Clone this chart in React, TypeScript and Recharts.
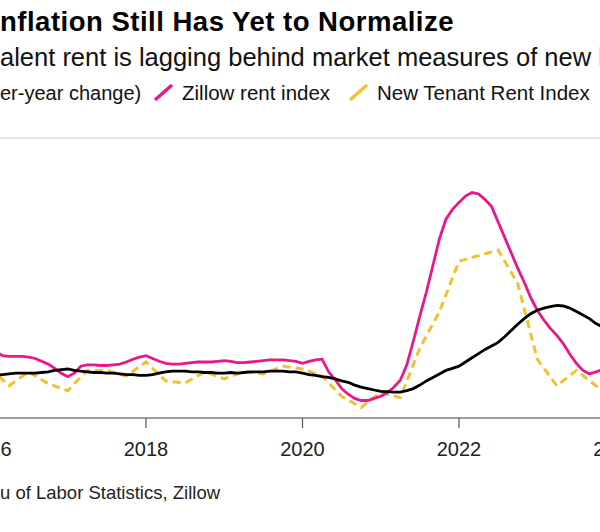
import React from 'react';
import { LineChart, Line, XAxis, YAxis, CartesianGrid } from 'recharts';

// Monthly series start in January 2016
const startYear = 2016;

// Owners' equivalent rent, y/y % (monthly)
const oerValues = [
  3.0, 3.05, 3.1, 3.15, 3.2, 3.2, 3.2, 3.2, 3.25, 3.3, 3.4, 3.45,
  3.5, 3.4, 3.35, 3.3, 3.25, 3.25, 3.2, 3.2, 3.15, 3.1, 3.1, 3.05,
  3.05, 3.1, 3.2, 3.3, 3.35, 3.35, 3.35, 3.3, 3.3, 3.25, 3.25, 3.2,
  3.2, 3.25, 3.2, 3.25, 3.3, 3.3, 3.3, 3.35, 3.35, 3.35, 3.3, 3.3,
  3.2, 3.1, 3.05, 2.95, 2.9, 2.8, 2.65, 2.55, 2.35, 2.2, 2.1, 2.0,
  1.9, 1.88, 1.85, 1.85, 1.95, 2.1, 2.35, 2.65, 2.9, 3.15, 3.4, 3.55,
  3.7, 4.0, 4.3, 4.6, 4.9, 5.15, 5.4, 5.8, 6.25, 6.7, 7.1, 7.45,
  7.7, 7.85, 7.95, 8.05, 8.0, 7.85, 7.6, 7.35, 7.1, 6.75, 6.5, 6.3,
  6.1, 5.95, 5.8,
];

// Zillow rent index, y/y % (monthly)
const zillowValues = [
  5.0, 4.75, 4.45, 4.4, 4.4, 4.4, 4.35, 4.25, 4.05, 3.85, 3.55, 3.2,
  2.95, 3.2, 3.7, 3.8, 3.8, 3.75, 3.75, 3.8, 3.85, 4.0, 4.2, 4.35,
  4.45, 4.25, 4.05, 3.9, 3.85, 3.85, 3.9, 3.95, 4.0, 4.0, 4.0, 4.05,
  4.1, 4.05, 3.95, 3.95, 4.0, 4.05, 4.1, 4.15, 4.15, 4.15, 4.1, 4.05,
  3.9, 4.05, 4.15, 4.2, 3.3, 2.75, 2.1, 1.7, 1.4, 1.25, 1.25, 1.4,
  1.55, 1.8, 2.2, 2.7, 3.8, 5.5, 7.3, 9.0, 10.9, 12.8, 14.2, 14.9,
  15.4, 15.85, 16.1, 16.0, 15.6, 15.1, 14.0, 12.9, 11.8, 10.7, 9.7, 8.6,
  7.7, 7.0, 6.4, 5.9, 5.3, 4.55, 3.9, 3.4, 3.15, 3.3, 3.45, 3.5,
  3.5, 3.5, 3.5,
];

// New Tenant Rent Index, y/y % (quarterly, Q1 2016 onward)
const ntriValues = [
  3.6, 2.3, 3.3, 2.45,
  1.95, 3.4, 3.4, 3.0,
  4.0, 2.65, 2.5, 3.3,
  2.8, 3.3, 3.15, 3.7,
  3.5, 3.0, 1.55, 0.75,
  1.85, 1.45, 5.0, 7.6,
  11.2, 11.6, 12.0, 9.6,
  4.2, 2.3, 3.4, 2.3,
  1.6,
];

const xTicks = [2016, 2018, 2020, 2022, 2024];
const yTicks = [0, 5, 10, 15, 20];

const rows = oerValues.map((v, i) => ({
  t: startYear + i / 12,
  oer: v,
  zillow: zillowValues[i] ?? null,
  ntri: i % 3 === 0 && ntriValues[i / 3] !== undefined ? ntriValues[i / 3] : null,
}));

const FONT = '"Liberation Sans", Arial, sans-serif';
const PINK = '#e8178a';
const YELLOW = '#f4c02f';

export default function App() {
  return (
    <div
      style={{
        position: 'absolute',
        left: 0,
        top: 0,
        width: 600,
        height: 532,
        overflow: 'hidden',
        background: '#ffffff',
      }}
    >
      <div style={{ position: 'absolute', left: -100, top: 0 }}>
        <LineChart
          width={800}
          height={532}
          data={rows}
          margin={{ top: 138, right: 0, bottom: 84, left: 0 }}
        >
          <CartesianGrid vertical={false} stroke="#dedede" strokeWidth={1.6} />
          <XAxis
            dataKey="t"
            type="number"
            domain={[2014.8562, 2025.0798]}
            allowDataOverflow
            ticks={xTicks}
            interval={0}
            height={30}
            tickSize={10}
            tickMargin={14}
            axisLine={{ stroke: '#555', strokeWidth: 1.2 }}
            tickLine={{ stroke: '#555', strokeWidth: 1.2 }}
            tick={{ fill: '#222', fontSize: 20, fontFamily: FONT }}
          />
          <YAxis
            width={0}
            domain={[0, 20]}
            ticks={yTicks}
            allowDataOverflow
            tick={false}
            axisLine={false}
            tickLine={false}
          />
          <Line
            dataKey="ntri"
            stroke={YELLOW}
            strokeWidth={3}
            strokeDasharray="8 5"
            dot={false}
            connectNulls
            isAnimationActive={false}
            type="linear"
          />
          <Line
            dataKey="zillow"
            stroke={PINK}
            strokeWidth={2.8}
            dot={false}
            isAnimationActive={false}
            type="linear"
          />
          <Line
            dataKey="oer"
            stroke="#000000"
            strokeWidth={2.8}
            dot={false}
            isAnimationActive={false}
            type="linear"
          />
        </LineChart>
      </div>
      <svg
        width={600}
        height={532}
        style={{ position: 'absolute', left: 0, top: 0, pointerEvents: 'none' }}
      >
        <g fontFamily={FONT}>
          <text x={-1} y={31} fontSize={27.5} fontWeight={700} letterSpacing={0.5} fill="#000" textAnchor="end">Rent I</text>
          <text x={0} y={31} fontSize={27.5} fontWeight={700} letterSpacing={0.5} fill="#000">nflation Still Has Yet to Normalize</text>

          <text x={-1} y={66} fontSize={25.5} fill="#111" textAnchor="end">Owners' equiv</text>
          <text x={0} y={66} fontSize={25.5} fill="#111">alent rent is lagging behind market measures of new leases</text>

          <text x={-1} y={100} fontSize={20} fill="#111" textAnchor="end">Owners' equivalent rent (year-ov</text>
          <text x={0} y={100} fontSize={20} fill="#111">er-year change)</text>
          <line x1={155} y1={100} x2={172} y2={85} stroke={PINK} strokeWidth={3.5} />
          <text x={182} y={100} fontSize={20.5} fill="#111">Zillow rent index</text>
          <line x1={350} y1={100} x2={367} y2={85} stroke={YELLOW} strokeWidth={3.5} />
          <text x={377} y={100} fontSize={20.5} fill="#111">New Tenant Rent Index</text>

          <text x={-1} y={499} fontSize={18.5} fill="#222" textAnchor="end">Source: Burea</text>
          <text x={0} y={499} fontSize={18.5} fill="#222">u of Labor Statistics, Zillow</text>
        </g>
      </svg>
    </div>
  );
}
